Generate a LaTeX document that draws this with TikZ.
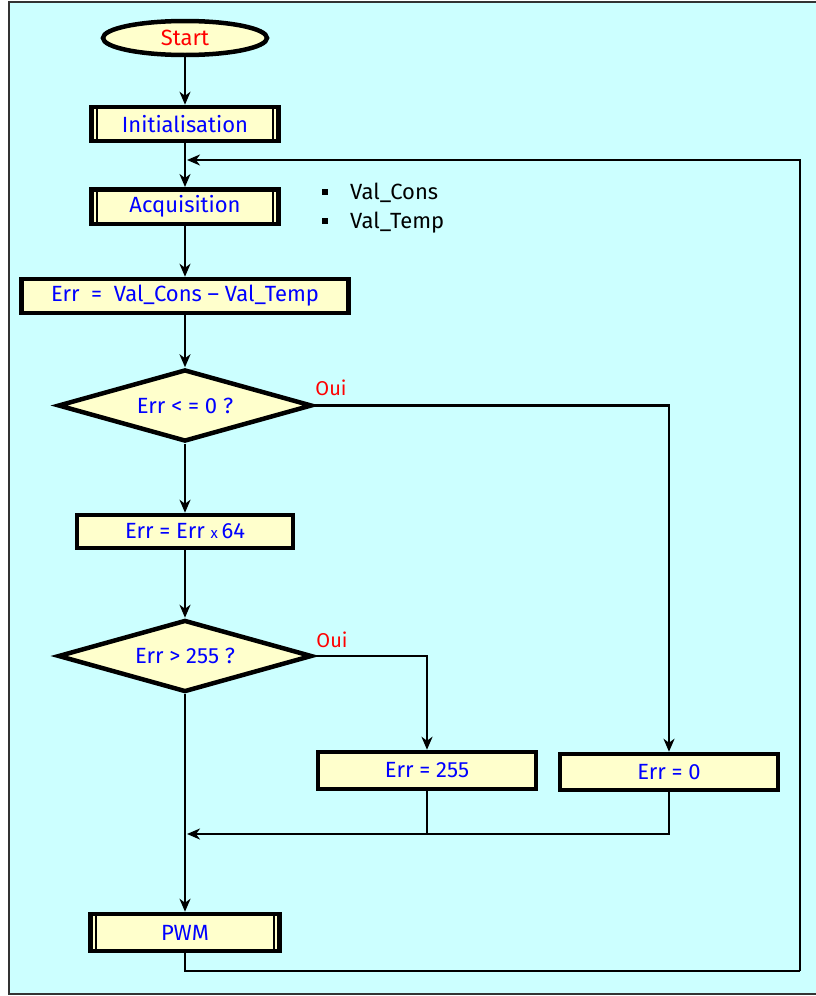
\documentclass[tikz,border=0pt]{standalone}
\usepackage{fontspec}
\setmainfont{Fira Sans}
\usetikzlibrary{shapes.geometric,arrows.meta}
\definecolor{bgcyan}{RGB}{204,255,255}
\definecolor{boxyellow}{RGB}{255,255,204}
\begin{document}
\begin{tikzpicture}[x=1pt,y=-1pt,
  every node/.style={font=\fontsize{22}{26}\selectfont},
  proc/.style={draw=black, line width=4.5pt, fill=boxyellow, text=blue,
    inner sep=0pt, rectangle},
  subproc/.style={proc, path picture={
    \draw[line width=2.5pt]
      ([xshift=5.5pt]path picture bounding box.north west) --
      ([xshift=5.5pt]path picture bounding box.south west)
      ([xshift=-5.5pt]path picture bounding box.north east) --
      ([xshift=-5.5pt]path picture bounding box.south east);}},
  decision/.style={proc, diamond, aspect=3.4},
  terminal/.style={proc, ellipse, text=red},
  arr/.style={line width=2.5pt, -{Stealth[length=13pt,width=11pt,inset=4pt]}},
  link/.style={line width=2.3pt},
  yes/.style={text=red, font=\fontsize{20}{24}\selectfont, inner sep=0pt},
  note/.style={anchor=west, inner sep=0pt, text=black},
]
\useasboundingbox (0,0) rectangle (816,996);
% page frame
\fill[bgcyan] (9,2) rectangle (816,994);
\draw[line width=2.5pt, black!80] (816,2) -- (9,2) -- (9,994) -- (816,994);

% flow nodes
\node[terminal, minimum width=164pt, minimum height=34pt] (start) at (185,38) {Start};
\node[subproc, minimum width=187pt, minimum height=34pt] (init) at (185,124) {Initialisation};
\node[subproc, minimum width=187pt, minimum height=34.5pt] (acq) at (185,206.5) {Acquisition};
\node[proc, minimum width=327pt, minimum height=34pt] (err) at (185,296) {Err~ = ~Val\_Cons – Val\_Temp};
\node[decision, minimum width=254pt, minimum height=72pt] (d1) at (185,405.5) {Err < = 0 ?};
\node[proc, minimum width=216pt, minimum height=33pt] (mul) at (185,531.5) {Err = Err {\fontsize{15}{15}\selectfont x}\,64};
\node[decision, minimum width=254pt, minimum height=72pt] (d2) at (185,656) {Err > 255 ?};
\node[proc, minimum width=218pt, minimum height=37pt] (set255) at (427,770.5) {Err = 255};
\node[proc, minimum width=218pt, minimum height=36pt] (set0) at (669,772) {Err = 0};
\node[subproc, minimum width=189pt, minimum height=37pt] (pwm) at (185,932.5) {PWM};

% acquired values
\node[note] (v1) at (322,193) {\rule[5pt]{6pt}{6pt}\hspace{22pt}Val\_Cons};
\node[note] (v2) at (322,223) {\rule[5pt]{6pt}{6pt}\hspace{22pt}Val\_Temp};

% branch labels
\node[yes] (oui1) at (331,388) {Oui};
\node[yes] (oui2) at (332,640) {Oui};

% junction points
\coordinate (loopin) at (187,160);
\coordinate (mergein) at (187,834);
\coordinate (loopcorner) at (800,971);

% connectors
\draw[arr] (start) -- (init);
\draw[arr] (init) -- (acq);
\draw[arr] (acq) -- (err);
\draw[arr] (err) -- (d1);
\draw[arr] (d1) -- (mul);
\draw[arr] (mul) -- (d2);
\draw[arr] (d2) -- (pwm);
\draw[arr] (d1.east) -| (set0.north);
\draw[arr] (d2.east) -| (set255.north);
\draw[arr] (set255.south) |- (mergein);
\draw[link] (set0.south) |- (set255.south |- mergein);
\draw[link] (pwm.south) |- (loopcorner);
\draw[arr] (loopcorner) |- (loopin);
\end{tikzpicture}
\end{document}
